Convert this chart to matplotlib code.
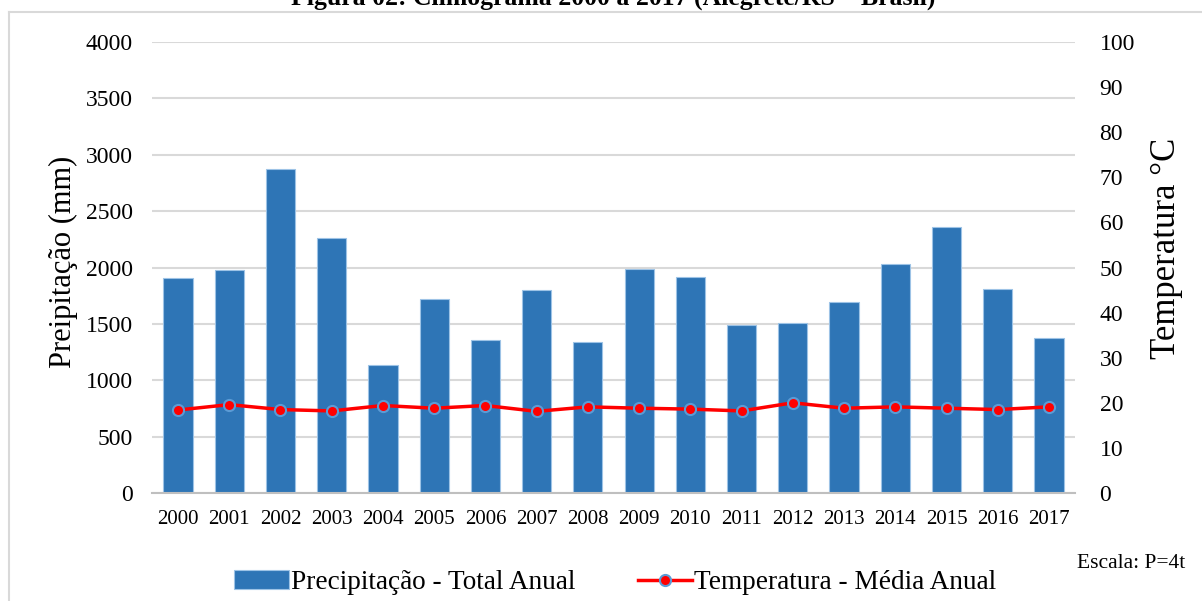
import matplotlib.pyplot as plt
from matplotlib.lines import Line2D
import numpy as np

plt.rcParams['font.family'] = ['Liberation Serif', 'DejaVu Serif']

anos = ['2000', '2001', '2002', '2003', '2004', '2005', '2006', '2007', '2008',
        '2009', '2010', '2011', '2012', '2013', '2014', '2015', '2016', '2017']
precipitacao = [1911, 1982, 2876, 2260, 1136, 1717, 1358, 1799, 1338,
                1991, 1920, 1491, 1506, 1695, 2035, 2363, 1805, 1376]
temperatura = [18.4, 19.6, 18.5, 18.2, 19.4, 18.8, 19.4, 18.1, 19.1,
               18.8, 18.6, 18.2, 20.0, 18.8, 19.1, 18.8, 18.5, 19.1]

fig = plt.figure(figsize=(12.02, 6.01), dpi=100)
ax = fig.add_axes([0.1268, 0.1797, 0.7672, 0.7504])
ax2 = ax.twinx()

x = np.arange(len(anos))
ax.bar(x, precipitacao, width=0.57, color='#2E75B6', edgecolor='#9DC3E6',
       linewidth=0.8, zorder=2, label='Precipitação - Total Anual')
ax.set_xlim(-0.5, len(anos) - 0.5)
ax.set_ylim(0, 4000)
ax.set_yticks(np.arange(0, 4001, 500))
ax.set_xticks(x)
ax.set_xticklabels(anos)
ax.grid(axis='y', color='#D9D9D9', linewidth=1.5, zorder=0)
ax.set_axisbelow(True)
ax.tick_params(axis='y', length=0, labelsize=17, pad=14)
ax.tick_params(axis='x', length=0, labelsize=15, pad=12)
for s in ['top', 'right', 'left']:
    ax.spines[s].set_visible(False)
ax.spines['bottom'].set_color('#BFBFBF')
ax.spines['bottom'].set_linewidth(1.5)
ax.set_ylabel('Preipitação (mm)', fontsize=22, labelpad=6)
ax.yaxis.label.set_y(0.512)

ax2.plot(x, temperatura, color='#FF0000', linewidth=2.5, marker='o',
         markersize=8, markerfacecolor='#FF0000', markeredgecolor='#5B9BD5',
         markeredgewidth=1.5, zorder=3, label='Temperatura - Média Anual')
ax2.set_ylim(0, 100)
ax2.set_yticks(np.arange(0, 101, 10))
ax2.tick_params(axis='y', length=0, labelsize=17, pad=18)
for s in ['top', 'right', 'left', 'bottom']:
    ax2.spines[s].set_visible(False)
ax2.set_ylabel('Temperatura °C', fontsize=25, labelpad=11)
ax2.yaxis.label.set_y(0.543)

# legenda
h1, l1 = ax.get_legend_handles_labels()
h2, l2 = ax2.get_legend_handles_labels()
fig.legend(h1 + h2, l1 + l2, loc='center', bbox_to_anchor=(0.512, 0.030),
           ncol=2, frameon=False, prop={'size': 19.6},
           handlelength=2.0, handletextpad=0.08, columnspacing=2.3)

fig.text(0.986, 0.063, 'Escala: P=4t', ha='right', va='center', fontsize=15.5)

# titulo (cortado no topo, como no original)
fig.text(0.510, 0.992, 'Figura 02: Climograma 2000 a 2017 (Alegrete/RS – Brasil)',
         ha='center', va='baseline', fontsize=18.5, fontweight='bold')

# moldura do grafico
fig.add_artist(Line2D([0.0075, 1.0], [0.980, 0.980], color='#D9D9D9', linewidth=1.5))
fig.add_artist(Line2D([0.0075, 0.0075], [0.0, 0.980], color='#D9D9D9', linewidth=1.5))

fig.savefig('out.png', dpi=100)
